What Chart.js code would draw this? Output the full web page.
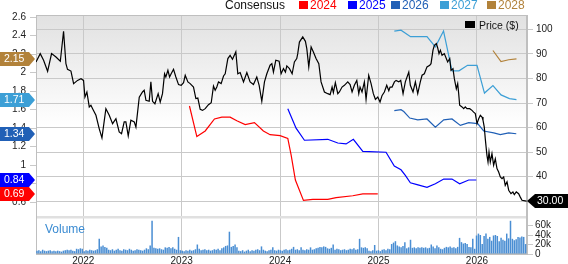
<!DOCTYPE html>
<html><head><meta charset="utf-8">
<script src="https://cdn.jsdelivr.net/npm/chart.js@4.4.1/dist/chart.umd.min.js"></script>
<style>
html,body{margin:0;padding:0;background:#fff;}
#wrap{position:relative;width:568px;height:264px;overflow:hidden;font-family:"Liberation Sans",Arial,sans-serif;}
canvas{position:absolute;left:0;top:0;}
.lg{position:absolute;font-size:12px;line-height:12px;white-space:nowrap;}
.sq{position:absolute;width:9px;height:8px;}
</style></head><body>
<div id="wrap">
<canvas id="c" width="568" height="264"></canvas>
</div>
<script>
// ---------- DATA ----------
const yearTicks = [2022, 2023, 2024, 2025, 2026];
const epsTicks = [0.6, 0.8, 1, 1.2, 1.4, 1.6, 1.8, 2, 2.2, 2.4, 2.6];
const priceTicks = [30, 40, 50, 60, 70, 80, 90, 100];
const volTicks = [0, 20, 40, 60];

const priceDates = [
2021.520,2021.563,2021.597,2021.638,2021.678,2021.723,2021.767,2021.800,2021.824,2021.840,2021.875,2021.902,2021.942,2021.977,2022.003,2022.017,2022.037,2022.061,2022.078,2022.095,2022.129,2022.162,2022.190,2022.230,2022.264,2022.298,2022.332,2022.365,2022.389,2022.416,2022.433,2022.457,2022.484,2022.518,2022.535,2022.569,2022.602,2022.619,2022.637,2022.670,2022.687,2022.704,2022.728,2022.761,
2022.782,2022.805,2022.826,2022.839,2022.860,2022.877,2022.893,2022.917,2022.941,2022.968,2022.995,2023.019,2023.036,2023.063,2023.086,2023.120,2023.144,2023.164,2023.188,2023.212,2023.239,2023.272,2023.300,2023.323,2023.340,2023.357,2023.374,2023.401,2023.425,2023.442,2023.469,2023.492,2023.516,2023.550,2023.570,2023.594,2023.628,2023.662,2023.695,2023.729,2023.763,2023.787,2023.814,2023.841,2023.865,2023.898,2023.916,2023.932,2023.956,2023.990,
2024.010,2024.034,2024.054,2024.068,2024.095,2024.122,2024.145,2024.169,2024.179,2024.196,2024.230,2024.257,2024.271,2024.291,2024.315,2024.338,2024.365,2024.393,2024.416,2024.450,2024.484,2024.508,2024.528,2024.541,2024.561,2024.586,2024.602,2024.629,2024.653,2024.687,2024.711,2024.731,2024.754,2024.779,2024.799,2024.812,2024.832,2024.856,2024.873,2024.900,2024.924,2024.947,2024.968,2024.992,2025.015,2025.036,2025.059,2025.083,2025.104,2025.117,2025.137,2025.161,2025.178,2025.205,2025.225,
2025.249,2025.272,2025.307,2025.323,2025.350,2025.374,2025.398,2025.424,2025.442,2025.465,2025.492,2025.520,2025.533,2025.553,2025.567,2025.587,2025.601,2025.614,2025.628,2025.645,2025.668,2025.688,2025.702,2025.723,2025.736,2025.756,2025.770,2025.790,2025.804,2025.814,2025.824,2025.848,2025.865,2025.881,2025.898,2025.926,2025.949,2025.966,2025.983,2026.000,2026.017,2026.034,2026.051,2026.061,2026.074,2026.084,2026.101,2026.112,2026.122,2026.135,2026.152,2026.169,2026.186,2026.203,2026.220,2026.237,2026.254,2026.271,2026.287,2026.305,2026.322,2026.345,2026.365,2026.379,2026.399,2026.423,2026.440,2026.457,2026.490,2026.505
];
const priceValues = [
86.7,90.1,87.4,82.9,90.1,88.7,87.0,99.2,86.0,83.7,83.0,77.9,79.2,79.9,79.2,72.4,74.5,68.4,69.1,67.7,65.0,59.6,55.8,67.7,65.0,61.6,63.6,58.2,57.5,62.3,62.3,56.6,63.0,62.3,60.2,72.4,74.5,75.2,71.1,70.7,78.6,70.7,69.7,73.8,
70.4,73.8,81.9,80.6,83.3,80.6,81.9,83.7,80.6,77.5,77.2,78.3,81.3,78.6,77.9,76.5,71.8,72.0,67.4,67.0,67.7,69.3,70.1,76.9,75.2,76.5,78.6,77.9,81.0,81.9,88.1,89.4,87.8,90.8,81.9,82.4,78.6,82.4,78.6,77.5,80.6,77.2,70.7,78.6,81.9,85.4,86.0,82.6,87.4,87.0,
81.9,84.0,82.6,85.1,84.0,81.9,86.7,88.1,90.1,94.8,96.9,95.1,92.1,84.7,92.8,90.8,88.1,86.0,78.6,74.5,73.8,73.4,76.5,74.2,78.3,73.8,74.5,76.5,77.2,78.6,77.5,74.5,77.2,79.2,73.8,76.5,74.5,78.6,71.5,81.3,77.9,73.8,71.5,72.4,70.4,73.1,74.5,77.2,75.0,76.5,76.5,78.6,79.2,78.6,79.2,
73.8,78.6,82.6,77.2,74.5,78.6,73.8,78.6,81.3,81.9,84.7,85.4,86.0,91.5,93.5,94.2,92.4,90.1,91.5,89.4,90.1,88.1,86.7,88.1,83.3,84.0,79.9,75.8,77.9,73.8,69.1,68.4,67.7,68.4,67.7,67.7,67.0,66.3,65.7,61.6,63.6,65.0,64.3,63.0,60.2,55.5,48.7,46.0,50.1,46.0,49.4,44.7,47.3,43.3,41.9,39.9,39.2,39.9,36.5,37.9,34.5,33.1,33.8,32.7,33.8,33.1,31.7,30.4,30.2,30.0
];

const consensusYears = ['2024', '2025', '2026', '2027', '2028'];
const eps2024Dates = [2023.079,2023.154,2023.239,2023.333,2023.408,2023.492,2023.560,2023.645,2023.739,2023.830,2023.898,2024.000,2024.078,2024.112,2024.155,2024.237,2024.332,2024.484,2024.569,2024.738,2024.840,2024.992];
const eps2024 = [1.64,1.31,1.37,1.50,1.52,1.52,1.48,1.44,1.46,1.37,1.33,1.32,1.29,1.11,0.84,0.62,0.63,0.63,0.65,0.67,0.69,0.69];
const eps2025Dates = [2024.078,2024.162,2024.247,2024.484,2024.586,2024.670,2024.744,2024.840,2025.076,2025.160,2025.228,2025.272,2025.323,2025.391,2025.492,2025.577,2025.662,2025.746,2025.824,2025.916,2025.993];
const eps2025 = [1.61,1.40,1.27,1.28,1.24,1.23,1.28,1.15,1.14,0.99,0.95,0.89,0.81,0.79,0.76,0.80,0.85,0.85,0.80,0.84,0.84];
const eps2026Dates = [2025.160,2025.228,2025.256,2025.317,2025.398,2025.492,2025.577,2025.662,2025.746,2025.831,2025.916,2026.007,2026.068,2026.170,2026.237,2026.322,2026.399];
const eps2026 = [1.59,1.60,1.58,1.51,1.49,1.50,1.41,1.49,1.50,1.43,1.46,1.45,1.37,1.35,1.33,1.35,1.34];
const eps2027Dates = [2025.160,2025.228,2025.325,2025.492,2025.577,2025.660,2025.746,2025.817,2025.904,2026.000,2026.076,2026.162,2026.244,2026.330,2026.401];
const eps2027 = [2.45,2.46,2.39,2.39,2.28,2.45,2.02,2.02,2.08,2.08,1.78,1.86,1.76,1.72,1.71];
const eps2028Dates = [2026.162,2026.244,2026.322,2026.401];
const eps2028 = [2.24,2.12,2.14,2.15];

// weekly volume, thousands of shares, first week starting mid-2021
const volStart = 2021.53;
const volume = [
7,8,6,9,7,6,7,8,6,7,6,7,6,5,7,8, 9,8,9, 7,6, 11,10,12,11, 6,8,7,9,8,7,8,10, 32, 16,18,15,13,
9,8,10,7,9,11,8,7,10,9,8,11,9,7,8,10,9,8,7,9,12,10, 18, 70, 13,12,11,12,10, 9, 14,13,15,12,14,11, 9, 36,
8,7,6,8,7,9,7,8, 10, 20, 11,8,9,10,8,9,7,8,10,9,11,8,12,14, 17,18, 47, 15,17,20,14,
7,6,8,5,7,9,6,8,7,9,10,8,16,9,7,6,8,9, 14, 8,7,9,8,7,9,10,8,9,11, 15, 9,10,8, 14, 9,8,10,9, 14, 9,10,
12,13,15,14,16,15,12,11, 13, 20, 9,11,10,8,9,10,8,9,11,10,12,9,10, 32, 14,13,14,12, 7,6,8, 19,
7,8,6,9,10,8,11,10, 21,24,27, 18,16,14,17, 25, 12, 14, 30, 13,14,12,14,13,14,13,14,12,13, 20,
16,12,18,14,11, 10,13,15,14,16,13,14,12,15, 34, 25,22,23,21, 15,14, 32, 11, 39,43,40, 21, 38,43,
32,36,28,39, 40,38, 27,34,30, 28, 43, 33, 70, 32,29,31, 36,35,37,36, 21
];

// ---------- STYLE ----------
const FONT = '"Liberation Sans", Arial, sans-serif';
const seriesColors = ['#ff0000', '#0000ff', '#2160b6', '#3c9fd6', '#b2823a'];
const volColor = '#4a8ed3';
const gridColor = '#c9c9c9';
const legendX = [299, 348, 391, 440, 487];

// ---------- LEGENDS (HTML text) ----------
const wrap = document.getElementById('wrap');
function addEl(cls, css, text) {
  const d = document.createElement('div');
  d.className = cls;
  Object.assign(d.style, css);
  if (text) d.textContent = text;
  wrap.appendChild(d);
  return d;
}
addEl('lg', {left: '225px', top: '-1px', color: '#111'}, 'Consensus');
consensusYears.forEach((y, i) => {
  addEl('sq', {left: legendX[i] + 'px', top: '1px', background: seriesColors[i]});
  addEl('lg', {left: (legendX[i] + 11) + 'px', top: '-1px', color: seriesColors[i]}, y);
});
addEl('sq', {left: '465px', top: '21px', width: '10px', height: '7px', background: '#000'});
addEl('lg', {left: '479px', top: '20px', fontSize: '10.5px', lineHeight: '11px', color: '#111'}, 'Price ($)');
addEl('lg', {left: '45px', top: '223px', color: '#3a8bd2'}, 'Volume');

// ---------- CHART ----------
const pts = (xs, ys) => xs.map((x, i) => ({x: x, y: ys[i]}));
const epsSets = [eps2024, eps2025, eps2026, eps2027, eps2028];
const epsDateSets = [eps2024Dates, eps2025Dates, eps2026Dates, eps2027Dates, eps2028Dates];
const weekStep = 7 / 365.25;
const volPts = volume.map((v, i) => ({x: volStart + i * weekStep, y: v}));

const datasets = [
  {type: 'line', label: 'Price ($)', data: pts(priceDates, priceValues), yAxisID: 'yPrice',
   borderColor: '#000', borderWidth: 1.2, pointRadius: 0, tension: 0, order: 0}
];
epsSets.forEach((vals, i) => datasets.push({
  type: 'line', label: consensusYears[i], data: pts(epsDateSets[i], vals), yAxisID: 'yEps',
  borderColor: seriesColors[i], borderWidth: 1.2, pointRadius: 0, tension: 0, order: 1
}));
datasets.push({type: 'bar', label: 'Volume', data: volPts, yAxisID: 'yVol',
  backgroundColor: volColor, barPercentage: 0.8, categoryPercentage: 1, order: 5});

function setTicks(list) { return s => { s.ticks = list.map(v => ({value: v})); }; }
const tickFont = {size: 10, family: FONT};

const deco = {
  id: 'deco',
  beforeDraw(chart) {
    const {ctx, chartArea: a} = chart;
    const yp = chart.scales.yPrice;
    ctx.save();
    const g = ctx.createLinearGradient(0, yp.top, 0, yp.bottom);
    g.addColorStop(0, '#e1e1e1');
    g.addColorStop(0.55, '#ffffff');
    g.addColorStop(1, '#ffffff');
    ctx.fillStyle = g;
    ctx.fillRect(a.left, yp.top, a.right - a.left, yp.bottom - yp.top);
    ctx.restore();
  },
  beforeDatasetsDraw(chart) {
    const {ctx, chartArea: a} = chart;
    const yp = chart.scales.yPrice;
    ctx.save();
    ctx.fillStyle = '#e0e0e0';
    ctx.fillRect(a.left, yp.bottom - 1, a.right - a.left, 2.5);
    ctx.strokeStyle = '#bfbfbf';
    ctx.lineWidth = 1;
    ctx.strokeRect(a.left + 0.5, a.top + 0.5, a.right - a.left - 1, a.bottom - a.top - 1);
    ctx.restore();
  },
  afterDraw(chart) {
    const {ctx, chartArea: a} = chart;
    const ye = chart.scales.yEps, yp = chart.scales.yPrice;
    ctx.save();
    ctx.font = '10.5px ' + FONT;
    ctx.textBaseline = 'middle';
    const h = 14;
    for (let i = epsSets.length - 1; i >= 0; i--) {
      const v = epsSets[i][epsSets[i].length - 1];
      const y = Math.round(ye.getPixelForValue(v));
      ctx.fillStyle = seriesColors[i];
      ctx.beginPath();
      ctx.moveTo(0, y - h / 2); ctx.lineTo(29, y - h / 2); ctx.lineTo(a.left - 1, y);
      ctx.lineTo(29, y + h / 2); ctx.lineTo(0, y + h / 2); ctx.closePath(); ctx.fill();
      ctx.fillStyle = '#fff';
      ctx.textAlign = 'left';
      ctx.fillText(v.toFixed(2), 4, y + 0.5);
    }
    const lp = priceValues[priceValues.length - 1];
    const y = Math.round(yp.getPixelForValue(lp));
    ctx.fillStyle = '#000';
    ctx.beginPath();
    ctx.moveTo(a.right, y); ctx.lineTo(a.right + 8, y - h / 2); ctx.lineTo(568, y - h / 2);
    ctx.lineTo(568, y + h / 2); ctx.lineTo(a.right + 8, y + h / 2); ctx.closePath(); ctx.fill();
    ctx.fillStyle = '#fff';
    ctx.textAlign = 'left';
    ctx.fillText(lp.toFixed(2), a.right + 10, y + 0.5);
    ctx.restore();
  }
};

new Chart(document.getElementById('c'), {
  data: {datasets},
  plugins: [deco],
  options: {
    responsive: false, animation: false, devicePixelRatio: 1,
    layout: {padding: {top: 15, left: 0, right: 0, bottom: 0}},
    plugins: {legend: {display: false}, tooltip: {enabled: false}},
    scales: {
      x: {type: 'linear', position: 'bottom', min: 2021.52, max: 2026.508, offset: false,
        afterBuildTicks: setTicks(yearTicks),
        afterFit: s => { s.height = 10; },
        ticks: {callback: v => String(v), font: tickFont, color: '#222', padding: 1, maxRotation: 0, autoSkip: false},
        grid: {color: gridColor, drawTicks: false, offset: false},
        border: {display: true, color: '#bfbfbf'}},
      yEps: {type: 'linear', position: 'left', min: 0.04, max: 2.624,
        afterBuildTicks: setTicks(epsTicks),
        afterFit: s => { s.width = 36; },
        ticks: {callback: v => String(Math.round(v * 10) / 10), font: tickFont, color: '#222', padding: 4, autoSkip: false},
        grid: {drawOnChartArea: false, color: gridColor, tickLength: 6},
        border: {display: true, color: '#bfbfbf'}},
      yPrice: {type: 'linear', position: 'right', stack: 'r', stackWeight: 202, min: 23.61, max: 105.82,
        afterBuildTicks: setTicks(priceTicks),
        afterFit: s => { s.width = 41; },
        ticks: {callback: v => String(v), font: tickFont, color: '#222', padding: 3, autoSkip: false},
        grid: {color: gridColor, tickLength: 6},
        border: {display: true, color: '#bfbfbf'}},
      yVol: {type: 'linear', position: 'right', stack: 'r', stackWeight: 37, min: 0, max: 78,
        afterBuildTicks: setTicks(volTicks),
        afterFit: s => { s.width = 41; },
        ticks: {callback: v => v === 0 ? '0' : v + 'k', font: tickFont, color: '#222', padding: 2, autoSkip: false},
        grid: {drawOnChartArea: false, color: gridColor, tickLength: 6},
        border: {display: true, color: '#bfbfbf'}}
    }
  }
});
</script>
</body></html>
